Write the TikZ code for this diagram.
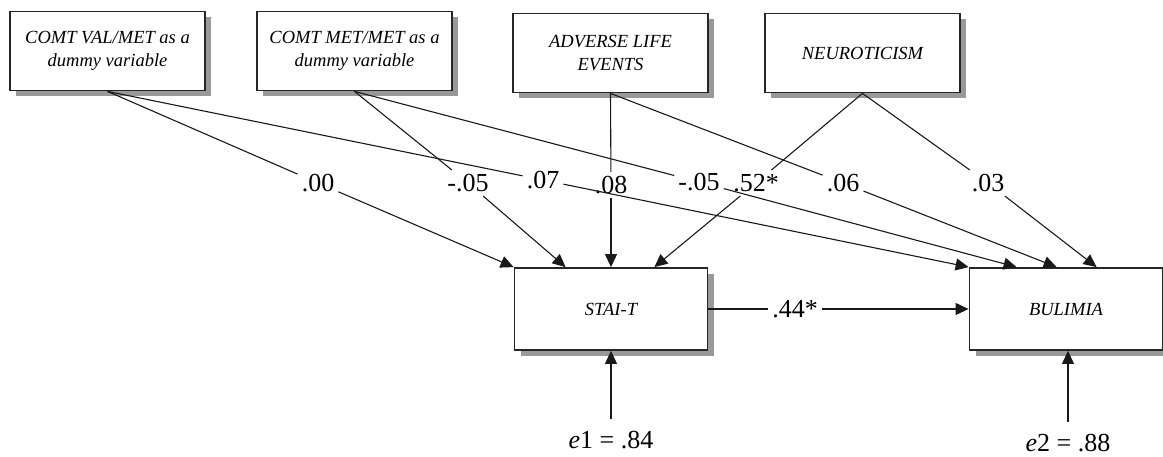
\documentclass[tikz,border=0pt]{standalone}
\usepackage{fontspec}
\setmainfont{Liberation Serif}
\usetikzlibrary{arrows.meta,shadows}

\begin{document}
\begin{tikzpicture}[x=1pt, y=-1pt,
  varbox/.style={draw=black!85, line width=1.8pt, fill=white, minimum width=195pt, minimum height=79pt,
    align=center, font=\fontsize{18.5}{23}\selectfont\itshape,
    drop shadow={shadow xshift=6pt, shadow yshift=-6pt, fill=black!40, opacity=1}},
  coef/.style={font=\fontsize{26}{30}\selectfont, inner sep=4pt},
  link/.style={line width=1.1pt, draw=black!90},
  arr/.style={link, -{Triangle[length=13pt,width=12pt]}}]
 \useasboundingbox (0,0) rectangle (1163,457);
 % variables
 \node[varbox] (comtvm) at (107.5,51) {COMT VAL/MET as a\\ dummy variable};
 \node[varbox] (comtmm) at (354.5,51) {COMT MET/MET as a\\ dummy variable};
 \node[varbox] (adverse) at (610.5,53) {ADVERSE LIFE\\ EVENTS};
 \node[varbox] (neuro) at (862.5,53) {NEUROTICISM};
 \node[varbox, minimum width=193pt, minimum height=82pt] (stait) at (611,309) {STAI-T};
 \node[varbox, minimum width=193pt, minimum height=82pt] (bulimia) at (1066,309) {BULIMIA};
 % coefficients
 \node[coef] (c1) at (318,183) {.00};
 \node[coef] (c2) at (468,183) {-.05};
 \node[coef] (c3) at (543,180) {.07};
 \node[coef] (c4) at (611,185) {.08};
 \node[coef] (c5) at (699,182) {-.05};
 \node[coef] (c6) at (756,183) {.52*};
 \node[coef] (c7) at (843,183) {.06};
 \node[coef] (c8) at (988,183) {.03};
 \node[coef] (c9) at (795,309) {.44*};
 \node[coef] (e1) at (611,440) {\textit{e}1 = .84};
 \node[coef] (e2) at (1068,443) {\textit{e}2 = .88};
 % arrow ends
 \coordinate (s2) at ([xshift=52pt]stait.north west);
 \coordinate (s4) at ([xshift=-54pt]stait.north east);
 \coordinate (b2) at ([xshift=48pt]bulimia.north west);
 \coordinate (b3) at ([xshift=88pt]bulimia.north west);
 \coordinate (b4) at ([xshift=128pt]bulimia.north west);
 % paths
 \draw[link] (comtvm.south) -- (c1); \draw[arr] (c1) -- (stait.north west);
 \draw[link] (comtmm.south) -- (c2); \draw[arr] (c2) -- (s2);
 \draw[link] (comtvm.south) -- (c3); \draw[arr] (c3) -- (bulimia.north west);
 \draw[link] (adverse.south) -- (c4); \draw[arr] (c4) -- (stait.north);
 \draw[link] (comtmm.south) -- (c5); \draw[arr] (c5) -- (b2);
 \draw[link] (neuro.south) -- (c6); \draw[arr] (c6) -- (s4);
 \draw[link] (adverse.south) -- (c7); \draw[arr] (c7) -- (b3);
 \draw[link] (neuro.south) -- (c8); \draw[arr] (c8) -- (b4);
 \draw[link] (stait.east) -- (c9); \draw[arr] (c9) -- (bulimia.west);
 \draw[arr] ([yshift=8pt]e1.north) -- (e1.north |- stait.south);
 \draw[arr] ([yshift=8pt]e2.north) -- (e2.north |- bulimia.south);
\end{tikzpicture}
\end{document}
